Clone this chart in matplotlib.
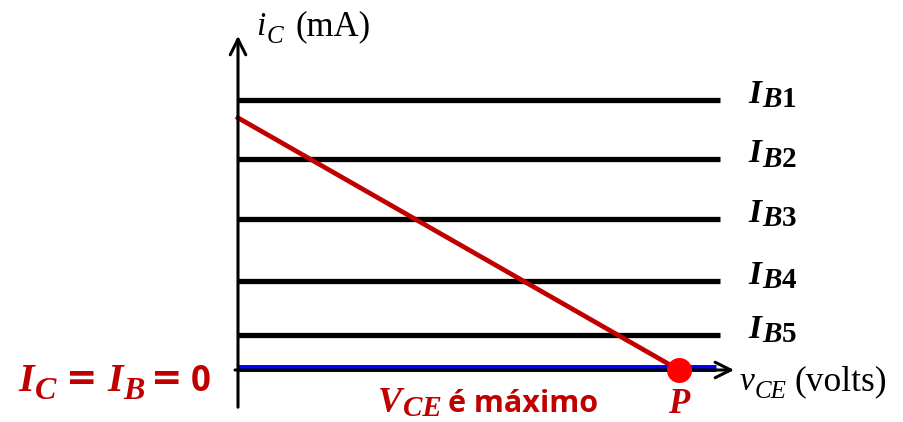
import matplotlib
matplotlib.use("Agg")
import matplotlib.pyplot as plt

# curvas de saida do transistor (unidades arbitrarias)
ib_labels = ["1", "2", "3", "4", "5"]
ib_levels = [5.0, 3.9, 2.8, 1.65, 0.65]
vce_max = 10.0

# reta de carga: de (0, ic_sat) ate o ponto P (vce_p, 0)
ic_sat = 4.67
vce_p = 9.15

red = "#C00000"
serif = "Liberation Serif"

plt.rcParams["mathtext.fontset"] = "custom"
plt.rcParams["mathtext.rm"] = "Liberation Serif"
plt.rcParams["mathtext.it"] = "Liberation Serif:italic"
plt.rcParams["mathtext.bf"] = "Liberation Serif:bold"
plt.rcParams["mathtext.bfit"] = "Liberation Serif:bold:italic"

fig = plt.figure(figsize=(9.04, 4.22), dpi=100)
ax = fig.add_axes([0, 0, 1, 1])
# 1 unidade de v_CE = 48.2 px, 1 unidade de i_C = 54 px
ax.set_xlim(-238 / 48.2, (904 - 238) / 48.2)
ax.set_ylim(-52 / 54, (422 - 52) / 54)
ax.axis("off")


def sub_text(x, y, main, sub, size, sub_size, drop, color="black",
             style="italic", weight="normal"):
    t = ax.text(x, y, main, fontsize=size, color=color, family=serif,
                style=style, weight=weight, ha="left", va="baseline")
    ax.annotate(sub, xy=(1, 0), xycoords=t, xytext=(0.5, -drop),
                textcoords="offset points", fontsize=sub_size, color=color,
                family=serif, style=style, weight=weight,
                ha="left", va="bottom")
    return t


# eixos
ax.annotate("", xy=(0, 6.24), xytext=(0, -0.74),
            arrowprops=dict(arrowstyle="->", lw=2.2, color="black", mutation_scale=28))
ax.annotate("", xy=(10.35, 0), xytext=(-0.12, 0),
            arrowprops=dict(arrowstyle="->", lw=2.2, color="black", mutation_scale=28))

# linhas de I_B
for lvl, lab in zip(ib_levels, ib_labels):
    ax.plot([0, vce_max], [lvl, lvl], color="black", lw=3.8, solid_capstyle="butt")
    sub_text(10.58, lvl - 0.05, "I", r"$\mathbfit{B}\mathbf{" + lab + "}$",
             24, 21, 2.5, weight="bold")

# I_B = 0
ax.plot([0, 9.92], [0.04, 0.04], color="#0000FF", lw=5, solid_capstyle="butt")

# reta de carga e ponto P
ax.plot([0, vce_p], [ic_sat, 0], color=red, lw=3.4)
ax.plot([vce_p], [0], "o", color="#FF0000", markersize=17, zorder=5)

# rotulos dos eixos
sub_text(0.38, 6.2, "i", "C", 24, 18, 4)
ax.text(1.2, 6.2, "(mA)", fontsize=25, family=serif, ha="left", va="baseline")
sub_text(10.4, -0.37, "v", "CE", 24, 18, 4)
ax.text(11.55, -0.37, "(volts)", fontsize=25.5, family=serif, ha="left", va="baseline")

# I_C = I_B = 0
yb = -0.39
sub_text(-4.56, yb, "I", "C", 29, 23, 4, color=red, weight="bold")
ax.text(-3.57, yb + 0.03, "=", fontsize=27, color=red, family="DejaVu Sans",
        weight="bold", ha="left", va="baseline")
sub_text(-2.72, yb, "I", "B", 29, 23, 4, color=red, weight="bold")
ax.text(-1.8, yb + 0.03, "=", fontsize=27, color=red, family="DejaVu Sans",
        weight="bold", ha="left", va="baseline")
ax.text(-0.97, yb, "0", fontsize=25, color=red, family="Open Sans",
        weight="bold", ha="left", va="baseline")

# V_CE e maximo
sub_text(2.9, -0.78, "V", "CE", 26, 21, 1.5, color=red, weight="bold")
ax.text(4.35, -0.78, "é máximo", fontsize=22, color=red, family="Open Sans",
        weight="bold", ha="left", va="baseline")

ax.text(vce_p, -0.8, "P", fontsize=25, color=red, family=serif,
        style="italic", weight="bold", ha="center", va="baseline")

fig.savefig("out.png", dpi=100)
